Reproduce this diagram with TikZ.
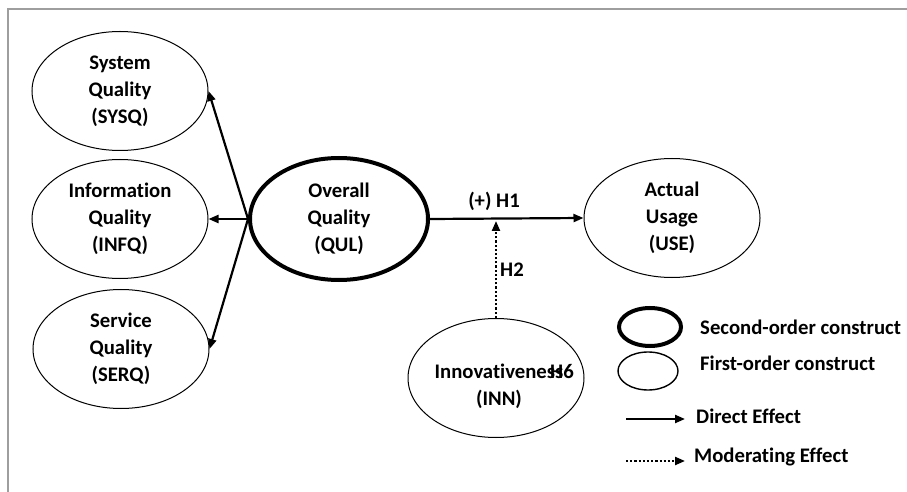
\documentclass[tikz,border=0pt]{standalone}
\usepackage{fontspec}
\setmainfont{Carlito}[Ligatures=NoCommon]
\usetikzlibrary{shapes.geometric,arrows.meta,positioning}

\begin{document}
\begin{tikzpicture}[x=1bp,y=-1bp,>={Triangle[length=10bp,width=8bp]},
			construct/.style={ellipse,draw,line width=1bp,minimum width=176bp,minimum height=119bp,inner sep=0pt,align=center,font=\fontsize{20.8}{27}\selectfont\bfseries},
			second/.style={construct,line width=4bp,minimum width=178bp,minimum height=122bp},
			effect/.style={->,line width=2.2bp},
			moderate/.style={->,line width=2.2bp,dotted},
			lbl/.style={font=\fontsize{20.8}{27}\selectfont\bfseries,inner sep=0pt},
			]
			% 画布与边框
			\useasboundingbox (0,0) rectangle (907,492);
			\draw[black!38,line width=2bp] (8,492)--(8,9)--(907,9);
			
			% 一阶构念
			\node[construct] (sysq) at (120,91) {System\\Quality\\(SYSQ)};
			\node[construct] (infq) at (120,219) {Information\\Quality\\(INFQ)};
			\node[construct] (serq) at (121,349) {Service\\Quality\\(SERQ)};
			
			% 二阶构念
			\node[second] (qul) at (339,219) {Overall\\Quality\\(QUL)};
			
			% 结果与调节变量
			\node[construct] (use) at (672,218) {Actual\\Usage\\(USE)};
			\node[construct] (inn) at (496,378) {};
			\node[lbl,align=center] (inntxt) at (499,386) {Innovativeness\\(INN)};
			\node[lbl] (h6) at (562,372) {H6};
			
			% QUL -> 各维度
			\draw[effect] (qul.west)--(sysq.east);
			\draw[effect] (qul.west)--(infq.east);
			\draw[effect] (qul.west)--(serq.east);
			
			% H1 与 H2
			\draw[effect] (qul.east)--(use.west);
			\node[lbl] (h1) at (494,201) {(+) H1};
			\coordinate (mod) at (496,221);
			\draw[moderate] (inn.north)--(mod);
			\node[lbl] (h2) at (512,270) {H2};
			
			% 图例
			\node[ellipse,draw,line width=4bp,minimum width=62bp,minimum height=38bp] (leg2) at (650,327) {};
			\node[ellipse,draw,line width=1.4bp,minimum width=60bp,minimum height=38bp] (leg1) at (648,371) {};
			\node[lbl,anchor=west] (leg2txt) at (700,327) {Second-order construct};
			\node[lbl,anchor=west] (leg1txt) at (700,363) {First-order construct};
			\coordinate (d1) at (626,419);
			\coordinate (d2) at (685,419);
			\draw[effect] (d1)--(d2);
			\node[lbl,anchor=west] (dtxt) at (696,416) {Direct Effect};
			\coordinate (m1) at (626,461);
			\coordinate (m2) at (685,461);
			\draw[moderate] (m1)--(m2);
			\node[lbl,anchor=west] (mtxt) at (694,457) {Moderating Effect};
		\end{tikzpicture}
\end{document}
